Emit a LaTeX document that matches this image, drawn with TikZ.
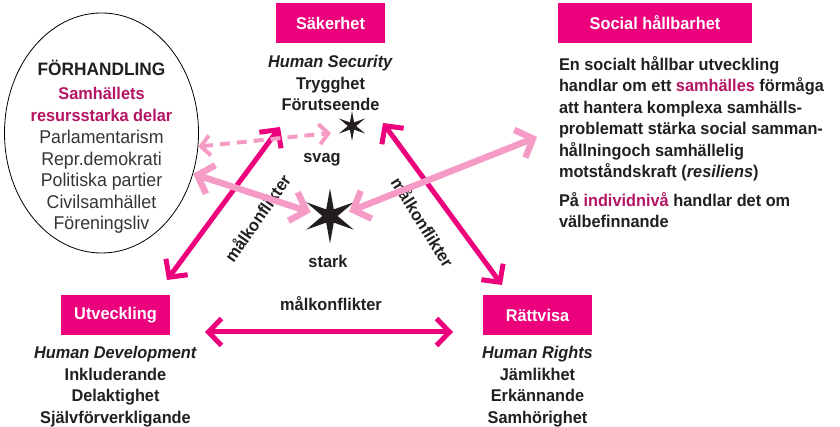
\documentclass[tikz,border=0pt]{standalone}
\usepackage{fontspec}
\setmainfont{Liberation Sans}[FakeStretch=0.96]
\usetikzlibrary{positioning, arrows.meta, shapes.geometric}
\definecolor{rosa}{RGB}{236,0,124}
\definecolor{ljusrosa}{RGB}{245,155,197}
\definecolor{vinrod}{RGB}{180,20,100}
\definecolor{mork}{RGB}{35,31,32}
\definecolor{gra}{RGB}{55,52,53}

\begin{document}
\begin{tikzpicture}[x=1pt, y=1pt, >={Straight Barb[length=13pt,width=27pt]},
    rubrik/.style={fill=rosa, text=white, font=\bfseries\fontsize{17}{21}\selectfont,
      minimum width=109pt, minimum height=40pt, inner sep=0pt},
    punkter/.style={text=mork, font=\bfseries\fontsize{17}{21.5}\selectfont, align=center, inner sep=0pt},
    stjarna/.style={star, star points=6, star point ratio=3.6, fill=mork, inner sep=0pt},
    mork pil/.style={rosa, line width=5pt, <->},
    ljus pil/.style={ljusrosa, line width=6.5pt, {Straight Barb[length=14pt,width=30pt]}-{Straight Barb[length=14pt,width=30pt]}}]
  \useasboundingbox (0,0) rectangle (840,427);

  \node [rubrik] (sak) at (330.5,404) {Säkerhet};
  \node [rubrik, minimum width=194pt] (soc) at (655,404) {Social hållbarhet};
  \node [rubrik] (utv) at (115.5,112) {Utveckling};
  \node [rubrik] (ratt) at (537.5,112) {Rättvisa};

  \node [punkter, below=12pt of sak] (saktext) {\textit{Human Security}\\Trygghet\\Förutseende};
  \node [punkter, below=11pt of utv] (utvtext) {\textit{Human Development}\\Inkluderande\\Delaktighet\\Självförverkligande};
  \node [punkter, below=11pt of ratt] (ratttext) {\textit{Human Rights}\\Jämlikhet\\Erkännande\\Samhörighet};
  \node [punkter, align=left, below right=13pt and 1pt of soc.south west] (soctext)
    {En socialt hållbar utveckling\\handlar om ett \textcolor{vinrod}{samhälles} förmåga\\att hantera komplexa samhälls-\\problematt stärka social samman-\\hållningoch samhällelig\\motståndskraft (\textit{resiliens})\\[7pt]På \textcolor{vinrod}{individnivå} handlar det om\\välbefinnande};

  \node [ellipse, draw, line width=0.8pt, minimum width=194pt, minimum height=240pt, inner sep=0pt] (forh) at (101.5,294) {};
  \node [punkter, below=47pt of forh.north] (forhtext)
    {\fontsize{18}{21.5}\selectfont FÖRHANDLING\\[3pt]\textcolor{vinrod}{Samhällets}\\\textcolor{vinrod}{resursstarka delar}};
  \node [punkter, text=gra, font=\mdseries\fontsize{18.5}{21.5}\selectfont, below=8.5pt of forhtext] (forhlista)
    {Parlamentarism\\Repr.demokrati\\Politiska partier\\Civilsamhället\\Föreningsliv};

  \node [stjarna, minimum size=30pt] (svagstj) at (352,301) {};
  \node [stjarna, minimum size=55pt] (starkstj) at (330,211) {};
  \node [punkter, anchor=base] (svag) at (322,264) {svag};
  \node [punkter, anchor=base] (stark) at (328,159) {stark};
  \node [punkter, anchor=base] (konf1) at (331,116) {målkonflikter};
  \node [punkter, rotate=55] (konf2) at (257,209) {målkonflikter};
  \node [punkter, rotate=-58] (konf3) at (423,205) {målkonflikter};

  \coordinate (utvpil) at (167,147);
  \coordinate (sakpil) at (280,300);
  \coordinate (sakpil2) at (383,304);
  \coordinate (rattpil) at (502,142);
  \coordinate (utvpil2) at (205,95);
  \coordinate (rattpil2) at (453,95);
  \coordinate (svagpil) at (331,294);
  \coordinate (socpil) at (537,290);

  \draw [mork pil] (utvpil) -- (sakpil);
  \draw [mork pil] (sakpil2) -- (rattpil);
  \draw [mork pil] (utvpil2) -- (rattpil2);

  \draw [ljusrosa, line width=4pt, dash pattern=on 10pt off 7pt,
    {Straight Barb[length=9pt,width=20pt]}-{Straight Barb[length=9pt,width=20pt]}] (forh.-8) -- (svagpil);
  \draw [ljus pil, shorten >=12pt] (forh.-24) -- (starkstj.west);
  \draw [ljus pil, shorten >=12pt] (socpil) -- (starkstj.east);
\end{tikzpicture}
\end{document}
